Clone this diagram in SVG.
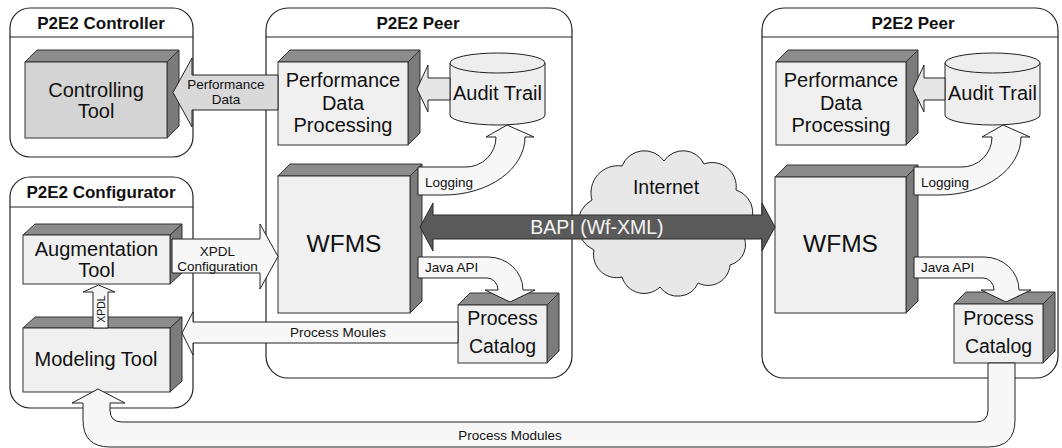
<svg xmlns="http://www.w3.org/2000/svg" width="1062" height="448" viewBox="0 0 1062 448">
<style>
text{font-family:"Liberation Sans",Arial,sans-serif;fill:#111}
.hd{font-size:17px;font-weight:bold;text-anchor:middle}
.big{font-size:20px;text-anchor:middle}
.s{font-size:13.5px}
.sc{font-size:13.5px;text-anchor:middle}
.cont{fill:#fff;stroke:#222;stroke-width:1.2}
.sep{stroke:#222;stroke-width:1.2}
.front{fill:#f0f0f0;stroke:#333;stroke-width:1}
.front2{fill:#d4d4d4;stroke:#333;stroke-width:1}
.top{fill:#8c8c8c;stroke:#333;stroke-width:1}
.side{fill:#7b7b7b;stroke:#333;stroke-width:1}
.arr{fill:#f7f7f7;stroke:#222;stroke-width:1}
.arrg{fill:#d9d9d9;stroke:#222;stroke-width:1}
.arrm{fill:#e6e6e6;stroke:#222;stroke-width:1}
.cyl{fill:#eeeeee;stroke:#222;stroke-width:1}
</style>

<!-- containers -->
<g id="controller">
<rect class="cont" x="10" y="8" width="183" height="149" rx="20"/>
<line class="sep" x1="10" y1="37" x2="193" y2="37"/>
<text class="hd" x="101" y="29">P2E2 Controller</text>
</g>
<g id="configurator">
<rect class="cont" x="10" y="177" width="183" height="231" rx="20"/>
<line class="sep" x1="10" y1="207" x2="193" y2="207"/>
<text class="hd" x="101" y="198">P2E2 Configurator</text>
</g>
<g id="peer1">
<rect class="cont" x="266" y="8" width="306" height="370" rx="22"/>
<line class="sep" x1="266" y1="37" x2="572" y2="37"/>
<text class="hd" x="418" y="29">P2E2 Peer</text>
</g>
<g id="peer2">
<rect class="cont" x="762" y="8" width="296" height="370" rx="22"/>
<line class="sep" x1="762" y1="37" x2="1058" y2="37"/>
<text class="hd" x="913" y="29">P2E2 Peer</text>
</g>

<g id="internet">
<path fill="#e8e8e8" stroke="#222" stroke-width="1" d="M 592,200 A 27 27 0 0 1 622,166 A 24 24 0 0 1 664,161 A 23 23 0 0 1 704,164 A 24 24 0 0 1 736,190 A 24 24 0 0 1 742,233 A 21 21 0 0 1 730,265 A 22 22 0 0 1 698,283 A 22 22 0 0 1 660,287 A 23 23 0 0 1 622,277 A 23 23 0 0 1 594,250 A 28 28 0 0 1 592,200 Z"/>
<text x="666" y="194" style="font-size:19.5px;text-anchor:middle">Internet</text>
</g>

<!-- boxes -->
<g id="controlling-tool">
<polygon class="top" points="25,62 37,50 179,50 167,62"/>
<polygon class="side" points="167,62 179,50 179,126 167,138"/>
<rect class="front2" x="25" y="62" width="142" height="76"/>
<text class="big" x="96" y="97">Controlling</text>
<text class="big" x="96" y="118">Tool</text>
</g>
<g id="augmentation-tool">
<polygon class="top" points="23,235 35,224 182,224 170,235"/>
<polygon class="side" points="170,235 182,224 182,273 170,284"/>
<rect class="front" x="23" y="235" width="147" height="49"/>
<text class="big" x="96.5" y="256">Augmentation</text>
<text class="big" x="96.5" y="277">Tool</text>
</g>
<g id="modeling-tool">
<polygon class="top" points="23,328 35,317 182,317 170,328"/>
<polygon class="side" points="170,328 182,317 182,381 170,392"/>
<rect class="front" x="23" y="328" width="147" height="64"/>
<text class="big" x="96" y="366">Modeling Tool</text>
</g>

<g id="pdp1">
<polygon class="top" points="278,62 290,50 420,50 408,62"/>
<polygon class="side" points="408,62 420,50 420,133 408,145"/>
<rect class="front" x="278" y="62" width="130" height="83"/>
<text class="big" x="343" y="87">Performance</text>
<text class="big" x="343" y="110">Data</text>
<text class="big" x="343" y="132">Processing</text>
</g>
<g id="audit1">
<path class="cyl" d="M 450,63 L 450,115 A 47.5 10 0 0 0 545,115 L 545,63"/>
<ellipse class="cyl" cx="497.5" cy="63" rx="47.5" ry="10"/>
<text class="big" x="497.5" y="100">Audit Trail</text>
</g>
<g id="wfms1">
<polygon class="top" points="278,176 290,164 422,164 410,176"/>
<polygon class="side" points="410,176 422,164 422,301 410,313"/>
<rect class="front" x="278" y="176" width="132" height="137"/>
<text x="344" y="252" style="font-size:24.5px;text-anchor:middle">WFMS</text>
</g>
<g id="catalog1">
<polygon class="top" points="458,305 470,293 559,293 547,305"/>
<polygon class="side" points="547,305 559,293 559,351 547,363"/>
<rect class="front" x="458" y="305" width="89" height="58"/>
<text x="502.5" y="325" style="font-size:19.5px;text-anchor:middle">Process</text>
<text x="502.5" y="353" style="font-size:19.5px;text-anchor:middle">Catalog</text>
</g>

<g id="pdp2">
<polygon class="top" points="776,62 788,50 918,50 906,62"/>
<polygon class="side" points="906,62 918,50 918,133 906,145"/>
<rect class="front" x="776" y="62" width="130" height="83"/>
<text class="big" x="841" y="87">Performance</text>
<text class="big" x="841" y="110">Data</text>
<text class="big" x="841" y="132">Processing</text>
</g>
<g id="audit2">
<path class="cyl" d="M 945,63 L 945,115 A 47.5 10 0 0 0 1040,115 L 1040,63"/>
<ellipse class="cyl" cx="992.5" cy="63" rx="47.5" ry="10"/>
<text class="big" x="992.5" y="100">Audit Trail</text>
</g>
<g id="wfms2">
<polygon class="top" points="775,177 787,165 918,165 906,177"/>
<polygon class="side" points="906,177 918,165 918,301 906,313"/>
<rect class="front" x="775" y="177" width="131" height="136"/>
<text x="840.5" y="252" style="font-size:24.5px;text-anchor:middle">WFMS</text>
</g>
<g id="catalog2">
<polygon class="top" points="954,304 966,292 1055,292 1043,304"/>
<polygon class="side" points="1043,304 1055,292 1055,351 1043,363"/>
<rect class="front" x="954" y="304" width="89" height="59"/>
<text x="998.5" y="325" style="font-size:19.5px;text-anchor:middle">Process</text>
<text x="998.5" y="353" style="font-size:19.5px;text-anchor:middle">Catalog</text>
</g>

<!-- connectors -->
<g id="connectors">
<path class="arrg" d="M 278,75 L 192,75 L 192,58 L 173,92.5 L 192,127 L 192,110 L 278,110 Z"/>
<text class="sc" x="226" y="88.5">Performance</text>
<text class="sc" x="226" y="104">Data</text>

<path class="arrm" d="M 450,78 L 428,78 L 428,65 L 417,89 L 428,112 L 428,100 L 450,100 Z"/>
<path class="arrm" d="M 945,78 L 924,78 L 924,65 L 913,89 L 924,112 L 924,100 L 945,100 Z"/>

<path class="arr" d="M 418,167 L 466,167 A 30 30 0 0 0 496,137 L 486,137 L 507,125 L 534,137 L 525,137 A 81 58 0 0 1 444,195 L 418,195 Z"/>
<text class="s" x="425" y="187">Logging</text>
<path class="arr" d="M 914,167 L 962,167 A 30 30 0 0 0 992,137 L 982,137 L 1003,125 L 1030,137 L 1021,137 A 81 58 0 0 1 940,195 L 914,195 Z"/>
<text class="s" x="921" y="187">Logging</text>

<path class="arr" d="M 418,257 L 488,257 A 35 33 0 0 1 523,290 L 535,290 L 510,302 L 485,290 L 498,290 A 11 12 0 0 0 487,278 L 418,278 Z"/>
<text class="s" x="425" y="272">Java API</text>
<path class="arr" d="M 914,257 L 984,257 A 35 33 0 0 1 1019,290 L 1031,290 L 1006,302 L 981,290 L 994,290 A 11 12 0 0 0 983,278 L 914,278 Z"/>
<text class="s" x="921" y="272">Java API</text>

<path fill="#5a5a5a" stroke="#2a2a2a" stroke-width="1" d="M 420,227 L 433,203 L 433,215 L 762,215 L 762,203 L 775,227 L 762,251 L 762,239 L 433,239 L 433,251 Z"/>
<text x="597" y="234" style="font-size:19.5px;text-anchor:middle;fill:#f4f4f4">BAPI (Wf-XML)</text>

<path class="arr" d="M 172,239 L 260,239 L 260,224 L 278,256.5 L 260,289 L 260,273 L 172,273 Z"/>
<text class="sc" x="217.5" y="256">XPDL</text>
<text class="sc" x="217.5" y="271">Configuration</text>

<path class="arr" d="M 93,328 L 93,292 L 83,292 L 98.5,285 L 115,292 L 108,292 L 108,328 Z"/>
<text x="104.5" y="309" transform="rotate(-90 104.5 309)" style="font-size:10.5px;text-anchor:middle">XPDL</text>

<path class="arr" d="M 458,322 L 193,322 L 193,312 L 182,333 L 193,355 L 193,343 L 458,343 Z"/>
<text class="s" x="290" y="337">Process Moules</text>

<path class="arr" d="M 988,363 L 988,410 Q 988,422 976,422 L 122,422 Q 110,422 110,410 L 110,403 L 125,403 L 98,389 L 72,403 L 83,403 L 83,420 Q 83,447 110,447 L 988,447 Q 1015,447 1015,420 L 1015,363 Z"/>
<text class="sc" x="510" y="440">Process Modules</text>
</g>
</svg>
